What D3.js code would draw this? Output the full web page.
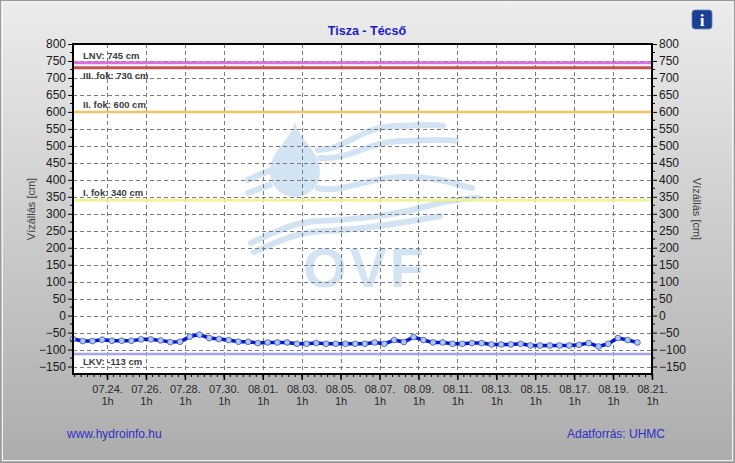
<!DOCTYPE html>
<html>
<head>
<meta charset="utf-8">
<script src="https://cdn.jsdelivr.net/npm/d3@7"></script>
<style>
  html, body { margin: 0; padding: 0; background: #fff; }
  svg { display: block; font-family: "Liberation Sans", Arial, sans-serif; }
</style>
</head>
<body>
<svg id="chart" width="735" height="463"></svg>
<script>
/* ── Data ─────────────────────────────────────── */
const title      = "Tisza - Técső";
const seriesStart = new Date(2024, 6, 22, 7);   // first reading, 07.22. 7h
const stepHours   = 12;                          // one reading every 12 h
const levels = [
    -69, -75, -75, -71, -74, -74, -74, -70, -70, -73,
    -78, -77, -62, -56, -66, -69, -72, -77, -77, -81,
    -79, -79, -79, -83, -83, -81, -83, -83, -83, -83,
    -83, -79, -83, -72, -78, -63, -72, -79, -79, -83,
    -83, -81, -81, -85, -85, -85, -83, -88, -88, -88,
    -88, -88, -86, -81, -91, -83, -66, -72, -79
];
const refNames  = ["LNV: 745 cm", "III. fok: 730 cm", "II. fok: 600 cm", "I. fok: 340 cm", "LKV: -113 cm"];
const refValues = [745, 730, 600, 340, -113];
const refColors = ["#dc6ee0", "#c85050", "#f2c464", "#f4f08a", "#a6a6ee"];
const refBelow  = [false, true, false, false, true];
const yTicks    = d3.range(-150, 801, 50);
const yLabel    = "Vízállás [cm]";

/* ── Layout ───────────────────────────────────── */
const W = 735, H = 463;
const plot = { left: 73, right: 652, top: 44, bottom: 374 };

const svg  = d3.select("#chart");
const defs = svg.append("defs");

const bg = defs.append("linearGradient").attr("id", "bg")
    .attr("x1", "0").attr("y1", "0").attr("x2", "0").attr("y2", "1");
bg.append("stop").attr("offset", "0%").attr("stop-color", "#ececec");
bg.append("stop").attr("offset", "100%").attr("stop-color", "#acacac");

svg.append("rect").attr("x", 0.5).attr("y", 0.5).attr("width", W - 1).attr("height", H - 1)
    .attr("fill", "url(#bg)").attr("stroke", "#9a9a9a");
svg.append("rect").attr("x", 2.5).attr("y", 2.5).attr("width", W - 5).attr("height", H - 5)
    .attr("fill", "none").attr("stroke", "#f4f4f4").attr("stroke-width", 1);

/* ── Scales ───────────────────────────────────── */
const firstMajor = new Date(2024, 6, 24, 1);
const lastMajor  = new Date(2024, 7, 21, 1);
const x = d3.scaleTime().domain([seriesStart, lastMajor]).range([plot.left, plot.right]);
const y = d3.scaleLinear().domain([-172, 800]).range([plot.bottom, plot.top]);

const points = levels.map((v, i) => ({ t: d3.timeHour.offset(seriesStart, i * stepHours), v }));

const majorTicks = d3.range(0, 15).map(i => d3.timeDay.offset(firstMajor, i * 2));
const minorTicks = [];
for (let t = d3.timeHour.offset(firstMajor, -40); t <= lastMajor; t = d3.timeHour.offset(t, 8)) {
    if (t >= seriesStart) minorTicks.push(t);
}
const yMinor = d3.range(-150, 801, 25);

/* ── Plot background + watermark ─────────────── */
svg.append("rect").attr("x", plot.left).attr("y", plot.top)
    .attr("width", plot.right - plot.left).attr("height", plot.bottom - plot.top)
    .attr("fill", "#fff");

const wmColor = "#d2e3f4";
const wm = svg.append("g").attr("fill", "none").attr("stroke", wmColor)
    .attr("stroke-width", 6).attr("stroke-linecap", "round");
wm.append("path").attr("fill", wmColor).attr("stroke", "none")
    .attr("d", "M295,122 C299,140 320,150 320,172 A25,25 0 1 1 270,172 C270,150 291,140 295,122 Z");
[
    "M318,150 C345,150 360,127 395,126 S435,124 443,126",
    "M320,158 C350,160 368,142 400,141 S445,139 456,141",
    "M318,188 C340,194 365,178 400,177 S455,184 472,188",
    "M248,180 C256,176 265,172 272,170",
    "M248,193 C256,190 263,187 270,185",
    "M251,243 C275,232 292,222 320,221 S390,216 420,208 S465,198 478,198",
    "M254,252 C280,241 296,232 325,231 S392,225 440,216"
].forEach(d => wm.append("path").attr("d", d));
svg.append("text").attr("x", 365).attr("y", 287)
    .attr("text-anchor", "middle").attr("font-size", 56).attr("font-weight", "bold")
    .attr("letter-spacing", 3).attr("fill", wmColor).text("OVF");

/* ── Grid ─────────────────────────────────────── */
const grid = svg.append("g").attr("stroke", "#7a7a7a").attr("stroke-dasharray", "4,3").attr("stroke-width", 1);
grid.selectAll(".gx").data(majorTicks.slice(0, -1)).join("line")
    .attr("x1", d => Math.round(x(d)) + 0.5).attr("x2", d => Math.round(x(d)) + 0.5)
    .attr("y1", plot.top).attr("y2", plot.bottom);
grid.selectAll(".gy").data(yTicks.filter(v => v < 800)).join("line")
    .attr("x1", plot.left).attr("x2", plot.right)
    .attr("y1", d => Math.round(y(d)) + 0.5).attr("y2", d => Math.round(y(d)) + 0.5);

/* ── Reference levels ────────────────────────── */
refValues.forEach((v, i) => {
    svg.append("line")
        .attr("x1", plot.left).attr("x2", plot.right)
        .attr("y1", y(v)).attr("y2", y(v))
        .attr("stroke", refColors[i]).attr("stroke-width", i < 2 ? 3 : 2.5);
    svg.append("text")
        .attr("x", plot.left + 10)
        .attr("y", refBelow[i] ? y(v) + 11 : y(v) - 4)
        .attr("font-size", 9.5).attr("font-weight", "bold").attr("fill", "#3c3c3c")
        .text(refNames[i]);
});

/* ── Series ───────────────────────────────────── */
const line = d3.line().x(d => x(d.t)).y(d => y(d.v));
svg.append("path").datum(points)
    .attr("d", line).attr("fill", "none")
    .attr("stroke", "#0a14d8").attr("stroke-width", 3.5).attr("stroke-linejoin", "round");
svg.append("g").selectAll("circle").data(points).join("circle")
    .attr("cx", d => x(d.t)).attr("cy", d => y(d.v)).attr("r", 2.9)
    .attr("fill", "#a9cbf2").attr("stroke", "#3444b8").attr("stroke-width", 0.7);

/* ── Frame + axes ─────────────────────────────── */
svg.append("rect").attr("x", plot.left).attr("y", plot.top)
    .attr("width", plot.right - plot.left).attr("height", plot.bottom - plot.top)
    .attr("fill", "none").attr("stroke", "#000").attr("stroke-width", 2);

const axisLeft = d3.axisLeft(y).tickValues(yTicks).tickSize(5).tickPadding(2).tickFormat(d3.format("d"));
const axisRight = d3.axisRight(y).tickValues(yTicks).tickSize(5).tickPadding(2).tickFormat(d3.format("d"));

function styleAxis(g) {
    g.select(".domain").remove();
    g.selectAll("text").attr("font-size", 12).attr("fill", "#1a1a1a")
        .attr("font-family", "'Liberation Sans', Arial, sans-serif");
    g.selectAll("line").attr("stroke", "#000");
}
svg.append("g").attr("transform", `translate(${plot.left},0)`).call(axisLeft).call(styleAxis);
svg.append("g").attr("transform", `translate(${plot.right},0)`).call(axisRight).call(styleAxis);

const minorY = svg.append("g").attr("stroke", "#000");
yMinor.filter(v => v % 50 !== 0).forEach(v => {
    minorY.append("line").attr("x1", plot.left - 3).attr("x2", plot.left).attr("y1", y(v)).attr("y2", y(v));
    minorY.append("line").attr("x1", plot.right).attr("x2", plot.right + 3).attr("y1", y(v)).attr("y2", y(v));
});

const xAxis = d3.axisBottom(x).tickValues(majorTicks).tickSize(6).tickFormat(d3.timeFormat("%m.%d."));
const gx = svg.append("g").attr("transform", `translate(0,${plot.bottom})`).call(xAxis);
gx.select(".domain").remove();
gx.selectAll("line").attr("stroke", "#000").attr("stroke-width", 1.5);
gx.selectAll("text").attr("font-size", 11).attr("fill", "#2a2a2a").attr("dy", "0.95em")
    .attr("font-family", "'Liberation Sans', Arial, sans-serif");
gx.selectAll(".tick").append("text")
    .attr("y", 21).attr("dy", "0.95em").attr("text-anchor", "middle")
    .attr("font-size", 11).attr("fill", "#2a2a2a").text("1h");

svg.append("g").attr("stroke", "#000").selectAll("line").data(minorTicks).join("line")
    .attr("x1", d => x(d)).attr("x2", d => x(d))
    .attr("y1", plot.bottom).attr("y2", plot.bottom + 3);

/* ── Titles / labels ──────────────────────────── */
svg.append("text").attr("x", 367).attr("y", 35).attr("text-anchor", "middle")
    .attr("font-size", 12.5).attr("font-weight", "bold").attr("fill", "#1c1cc8").text(title);

svg.append("text").attr("transform", "translate(35,209) rotate(-90)")
    .attr("text-anchor", "middle").attr("font-size", 11).attr("fill", "#404040").text(yLabel);
svg.append("text").attr("transform", "translate(693,209) rotate(90)")
    .attr("text-anchor", "middle").attr("font-size", 11).attr("fill", "#404040").text(yLabel);

svg.append("text").attr("x", 67).attr("y", 438)
    .attr("font-size", 12).attr("fill", "#2e2ec4").text("www.hydroinfo.hu");
svg.append("text").attr("x", 665).attr("y", 438).attr("text-anchor", "end")
    .attr("font-size", 12).attr("fill", "#2e2ec4").text("Adatforrás: UHMC");

/* ── Info icon ────────────────────────────────── */
const info = svg.append("g").attr("transform", "translate(692,10)");
info.append("rect").attr("width", 20).attr("height", 19).attr("rx", 3)
    .attr("fill", "#1b3f93").attr("stroke", "#6a80b8").attr("stroke-width", 0.8);
info.append("text").attr("x", 10).attr("y", 16).attr("text-anchor", "middle")
    .attr("font-family", "'Liberation Serif', serif").attr("font-weight", "bold")
    .attr("font-size", 17).attr("fill", "#fff").text("i");
</script>
</body>
</html>
